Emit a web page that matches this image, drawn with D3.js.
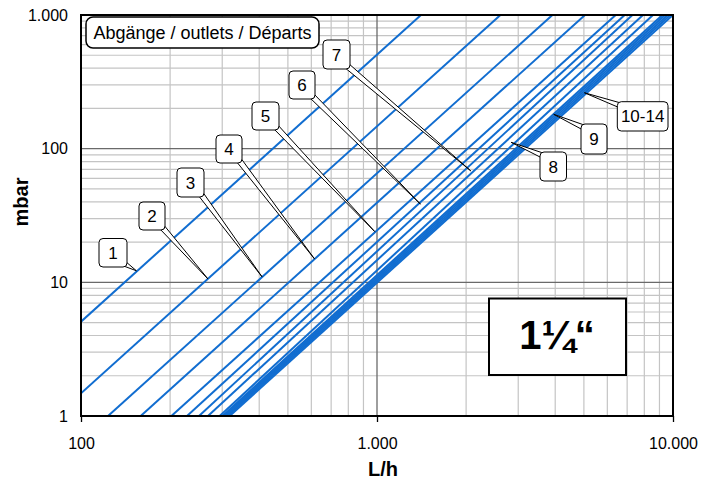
<!DOCTYPE html>
<html>
<head>
<meta charset="utf-8">
<script src="https://cdn.jsdelivr.net/npm/d3@7"></script>
<style>
  body { margin: 0; background: #fff; }
  svg text { font-family: "Liberation Sans", Arial, sans-serif; fill: #000; }
</style>
</head>
<body>
<svg id="chart" width="717" height="482"></svg>
<script>
//
// Data
//

// curve names, one per outlet count
var curveNames = ['1', '2', '3', '4', '5', '6', '7', '8', '9', '10', '11', '12', '13', '14']
// first visible point of each curve: flow L/h, drop mbar
var startFlow = [100, 100, 123.4, 159.1, 202, 228.1, 250.4, 268.5, 294.1, 300.4, 304.6, 309, 313.5, 317.9]
var startDrop = [5.08, 1.48, 1, 1, 1, 1, 1, 1, 1, 1, 1, 1, 1, 1]
// last visible point of each curve
var endFlow = [1408, 2612, 3914, 5043, 6404, 6867, 7292, 7917, 8557, 9209, 9397, 9597, 9792, 10000]
var endDrop = [1000, 1000, 1000, 1000, 1000, 1000, 1000, 1000, 1000, 1000, 1000, 1000, 1000, 1000]

// callout labels and the point on the curve each one points at
var calloutText = ['1', '2', '3', '4', '5', '6', '7', '8', '9', '10-14']
var calloutFlow = [153.9, 268.5, 408.8, 614.5, 982, 1402, 2073, 2836, 3954, 5020]
var calloutDrop = [12.2, 10.6, 11.0, 15.0, 24.0, 38.5, 68.3, 111.6, 180.7, 262]

var xTickValues = [100, 1000, 10000]
var xTickLabels = ['100', '1.000', '10.000']
var yTickValues = [1, 10, 100, 1000]
var yTickLabels = ['1', '10', '100', '1.000']

//
// Layout
//

var margin = { left: 81, top: 15, right: 44, bottom: 66 }
var width = 717 - margin.left - margin.right
var height = 482 - margin.top - margin.bottom
var colorCurve = '#116dd0'

// callout boxes in pixels [x, y, w, h] and the corner the tail leaves from
var calloutBoxes = [
  [99, 238.5, 28, 28.5], [139, 202, 26, 28], [177, 168, 27, 29],
  [216, 135, 26, 28], [252, 102, 27, 28], [289, 71, 26, 28],
  [323, 40, 27, 29], [540, 152, 26.5, 29], [581, 124, 26, 30],
  [617.3, 101.7, 50.7, 29.3]
]

var svg = d3.select('#chart')
var x = d3.scaleLog().domain([100, 10000]).range([margin.left, margin.left + width])
var y = d3.scaleLog().domain([1, 1000]).range([margin.top + height, margin.top])

function isMajor(v) {
  var l = Math.log10(v)
  return Math.abs(l - Math.round(l)) < 1e-9
}

//
// Grid
//

svg.append('rect')
  .attr('x', x(100)).attr('y', y(1000))
  .attr('width', width).attr('height', height)
  .attr('fill', '#fff')

var xGrid = x.ticks().filter(function(d) { return !isMajor(d) })
var yGrid = y.ticks().filter(function(d) { return !isMajor(d) })

svg.append('g').selectAll('line').data(xGrid).enter().append('line')
  .attr('x1', function(d) { return x(d) }).attr('x2', function(d) { return x(d) })
  .attr('y1', y(1)).attr('y2', y(1000))
  .attr('stroke', '#c4c4c4').attr('stroke-width', 1.2)

svg.append('g').selectAll('line').data(yGrid).enter().append('line')
  .attr('y1', function(d) { return y(d) }).attr('y2', function(d) { return y(d) })
  .attr('x1', x(100)).attr('x2', x(10000))
  .attr('stroke', '#c4c4c4').attr('stroke-width', 1.2)

svg.append('g').selectAll('line').data(xTickValues).enter().append('line')
  .attr('x1', function(d) { return x(d) }).attr('x2', function(d) { return x(d) })
  .attr('y1', y(1)).attr('y2', y(1000))
  .attr('stroke', '#6a6a6a').attr('stroke-width', 1.3)

svg.append('g').selectAll('line').data(yTickValues).enter().append('line')
  .attr('y1', function(d) { return y(d) }).attr('y2', function(d) { return y(d) })
  .attr('x1', x(100)).attr('x2', x(10000))
  .attr('stroke', '#6a6a6a').attr('stroke-width', 1.3)

//
// Curves
//

svg.append('clipPath').attr('id', 'plotclip')
  .append('rect')
  .attr('x', x(100)).attr('y', y(1000))
  .attr('width', width).attr('height', height)

var curves = curveNames.map(function(name, i) {
  return [[startFlow[i], startDrop[i]], [endFlow[i], endDrop[i]]]
})

var line = d3.line()
  .x(function(d) { return x(d[0]) })
  .y(function(d) { return y(d[1]) })

svg.append('g').attr('clip-path', 'url(#plotclip)')
  .selectAll('path').data(curves).enter().append('path')
  .attr('d', line)
  .attr('fill', 'none')
  .attr('stroke', colorCurve)
  .attr('stroke-width', 2)

//
// Frame and axes
//

svg.append('rect')
  .attr('x', x(100)).attr('y', y(1000))
  .attr('width', width).attr('height', height)
  .attr('fill', 'none').attr('stroke', '#000').attr('stroke-width', 2)

var xAxis = svg.append('g')
  .attr('transform', 'translate(0,' + y(1) + ')')
  .call(d3.axisBottom(x).tickValues(xTickValues).tickSize(6).tickPadding(16)
    .tickFormat(function(d, i) { return xTickLabels[i] }))
xAxis.select('.domain').remove()
xAxis.selectAll('line').attr('stroke', '#000').attr('stroke-width', 1.3)
xAxis.selectAll('text').attr('font-size', 16).attr('font-family', '"Liberation Sans", Arial, sans-serif')

var yAxis = svg.append('g')
  .attr('transform', 'translate(' + x(100) + ',0)')
  .call(d3.axisLeft(y).tickValues(yTickValues).tickSize(0).tickPadding(13)
    .tickFormat(function(d, i) { return yTickLabels[i] }))
yAxis.select('.domain').remove()
yAxis.selectAll('text').attr('font-size', 16).attr('font-family', '"Liberation Sans", Arial, sans-serif')

svg.append('text')
  .attr('x', 383).attr('y', 476)
  .attr('text-anchor', 'middle')
  .attr('font-size', 20).attr('font-weight', 'bold')
  .text('L/h')

svg.append('text')
  .attr('transform', 'translate(28,202) rotate(-90)')
  .attr('text-anchor', 'middle')
  .attr('font-size', 20).attr('font-weight', 'bold')
  .text('mbar')

//
// Callouts
//

var notes = svg.append('g')

calloutText.forEach(function(t, i) {
  var b = calloutBoxes[i]
  var tx = x(calloutFlow[i])
  var ty = y(calloutDrop[i])
  // corner closest to the target
  var sx = tx > b[0] + b[2] / 2 ? 1 : -1
  var sy = ty > b[1] + b[3] / 2 ? 1 : -1
  var cx = sx > 0 ? b[0] + b[2] : b[0]
  var cy = sy > 0 ? b[1] + b[3] : b[1]
  var p1 = [cx - sx * 6, cy - sy * 2]
  var p2 = [cx - sx * 2, cy - sy * 6]
  notes.append('path')
    .attr('d', 'M' + p1 + 'L' + [tx, ty] + 'L' + p2 + 'Z')
    .attr('fill', '#fff').attr('stroke', '#000').attr('stroke-width', 1)
  notes.append('rect')
    .attr('x', b[0]).attr('y', b[1]).attr('width', b[2]).attr('height', b[3])
    .attr('rx', 4).attr('ry', 4)
    .attr('fill', '#fff').attr('stroke', '#000').attr('stroke-width', 1)
  notes.append('text')
    .attr('x', b[0] + b[2] / 2).attr('y', b[1] + b[3] / 2 + 6)
    .attr('text-anchor', 'middle')
    .attr('font-size', 17)
    .text(t)
})

// outlets title box
notes.append('rect')
  .attr('x', 86).attr('y', 17).attr('width', 233).attr('height', 31)
  .attr('rx', 7).attr('ry', 7)
  .attr('fill', '#fff').attr('stroke', '#000').attr('stroke-width', 1.5)
notes.append('text')
  .attr('x', 202.5).attr('y', 39)
  .attr('text-anchor', 'middle')
  .attr('font-size', 18)
  .text('Abgänge / outlets / Départs')

// pipe size box
notes.append('rect')
  .attr('x', 489).attr('y', 298.5).attr('width', 137).attr('height', 76.5)
  .attr('fill', '#fff').attr('stroke', '#000').attr('stroke-width', 2)
notes.append('text')
  .attr('x', 557).attr('y', 349)
  .attr('text-anchor', 'middle')
  .attr('font-size', 40).attr('font-weight', 'bold')
  .text('1¼“')
</script>
</body>
</html>
